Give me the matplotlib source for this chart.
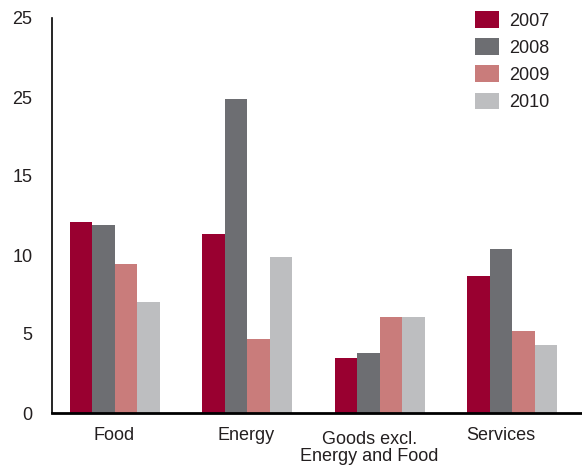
import matplotlib
matplotlib.use("Agg")
import matplotlib.pyplot as plt
import matplotlib.transforms as mtrans
import numpy as np

plt.rcParams['font.family'] = ['Liberation Sans', 'DejaVu Sans']

categories = ["Food", "Energy", "Goods excl.\nEnergy and Food", "Services"]
years = ["2007", "2008", "2009", "2010"]
v2007 = [12.1, 11.3, 3.5, 8.7]
v2008 = [11.9, 19.9, 3.8, 10.4]
v2009 = [9.4, 4.7, 6.1, 5.2]
v2010 = [7.0, 9.9, 6.1, 4.3]
yticks = [0, 5, 10, 15, 20, 25]
ytick_labels = ["0", "5", "10", "15", "25", "25"]

colors = ["#990030", "#6d6e72", "#c97c7b", "#bdbec0"]
text_col = "#231f20"

fig = plt.figure(figsize=(5.82, 4.69), dpi=100)
ax = fig.add_axes([52/582, 56/469, 1 - 52/582, (413-18)/469])

x = np.arange(len(categories))
w = 0.17
series = [v2007, v2008, v2009, v2010]
for i, vals in enumerate(series):
    ax.bar(x + (i - 1.5)*w, vals, width=w, color=colors[i], label=years[i],
           linewidth=0)

ax.set_xlim(-0.475, 3.525)
ax.set_ylim(0, 25)
ax.set_yticks(yticks)
ax.set_yticklabels(ytick_labels, fontsize=13, color=text_col)
# labels in the original sit a little left of the groups on the right
label_shift = [-0.01, -0.01, -0.08, -0.09]
ax.set_xticks(x + np.array(label_shift))
ax.set_xticklabels(categories, fontsize=13, color=text_col, linespacing=1.0)
ax.tick_params(axis='both', length=0)
ax.tick_params(axis='y', pad=14)
ax.tick_params(axis='x', pad=10)
goods = ax.get_xticklabels()[2]
goods.set_transform(goods.get_transform() +
                    mtrans.ScaledTranslation(0, -4/100, fig.dpi_scale_trans))

for s in ["top", "right"]:
    ax.spines[s].set_visible(False)
ax.spines["left"].set_linewidth(1.2)
ax.spines["bottom"].set_linewidth(2)
ax.spines["left"].set_color("black")
ax.spines["bottom"].set_color("black")

leg = ax.legend(loc="upper left", bbox_to_anchor=(475/582, 1 - 11/469),
                bbox_transform=fig.transFigure, frameon=False, fontsize=13,
                handlelength=1.33, handleheight=1.05, labelspacing=0.48,
                handletextpad=0.55, borderpad=0, borderaxespad=0)
for t in leg.get_texts():
    t.set_color(text_col)

fig.savefig("out.png", dpi=100)
